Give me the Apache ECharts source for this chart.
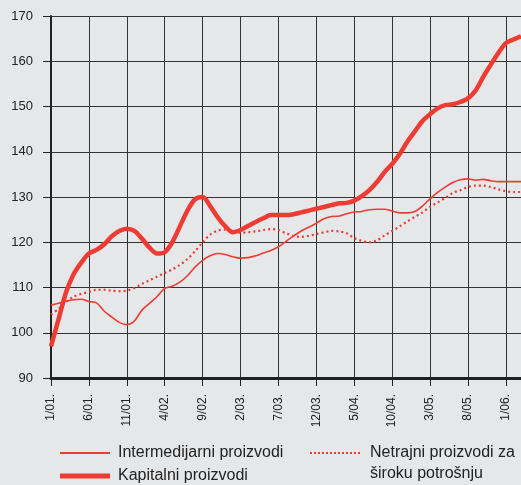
<!DOCTYPE html>
<html><head><meta charset="utf-8">
<script src="https://cdn.jsdelivr.net/npm/echarts@6/dist/echarts.min.js"></script>
<style>html,body{margin:0;padding:0;background:#e6e7e9}#c{width:521px;height:485px}</style>
</head><body><div id="c"></div>
<script>
var months = ["1/01.","2/01.","3/01.","4/01.","5/01.","6/01.","7/01.","8/01.","9/01.","10/01.","11/01.","12/01.",
"1/02.","2/02.","3/02.","4/02.","5/02.","6/02.","7/02.","8/02.","9/02.","10/02.","11/02.","12/02.",
"1/03.","2/03.","3/03.","4/03.","5/03.","6/03.","7/03.","8/03.","9/03.","10/03.","11/03.","12/03.",
"1/04.","2/04.","3/04.","4/04.","5/04.","6/04.","7/04.","8/04.","9/04.","10/04.","11/04.","12/04.",
"1/05.","2/05.","3/05.","4/05.","5/05.","6/05.","7/05.","8/05.","9/05.","10/05.","11/05.","12/05.",
"1/06.","2/06.","3/06."];
var intermedijarni = [106.1,106.5,107,107.3,107.4,106.9,106.6,104.8,103.5,102.3,101.8,102.6,
105,106.5,108,109.8,110.3,111.2,112.6,114.5,116,117,117.5,117.3,
116.8,116.5,116.6,117,117.6,118.2,119,120.2,121.4,122.5,123.3,124.2,
125.2,125.7,125.8,126.3,126.7,126.8,127.2,127.3,127.3,126.9,126.5,126.5,
126.8,128,129.6,131,132.2,133.2,133.8,134,133.7,133.9,133.6,133.4,
133.4,133.4,133.4];
var kapitalni = [97,103,109,113,115.5,117.5,118.3,119.5,121.3,122.5,123,122.5,
120.8,118.8,117.5,117.8,120,123.5,127,129.5,130,128,125.5,123.5,
122.2,122.7,123.6,124.5,125.3,126,126,126,126.2,126.6,127,127.4,
127.8,128.2,128.6,128.7,129.2,130.2,131.5,133.3,135.5,137.3,139.5,142.2,
144.5,146.8,148.3,149.6,150.3,150.5,151,151.8,153.5,156.5,159.2,161.8,
164,164.8,165.5];
var netrajni = [104,105.3,106.8,108,108.6,109,109.5,109.5,109.3,109.2,109.3,109.9,
110.8,111.6,112.4,113.2,114,115,116.3,118,120,121.7,122.6,122.8,
122.4,122.1,122.2,122.4,122.7,122.9,122.7,122,121.4,121.2,121.4,121.8,
122.2,122.5,122.4,122,120.9,120.3,120,120.4,121.5,122.5,123.5,124.6,
125.6,126.6,127.8,128.8,129.8,130.9,131.5,132.2,132.5,132.5,132.2,131.7,
131.3,131.1,131.1];
var seriesNames = ["Intermedijarni proizvodi","Kapitalni proizvodi","Netrajni proizvodi za"];
var legendSecondLine = "široku potrošnju";

var red = '#ee3b33';
var font = 'Liberation Sans, Arial, sans-serif';
var dotPath = 'path://M0,0h2v2h-2zM4,0h2v2h-2zM8,0h2v2h-2zM12,0h2v2h-2zM16,0h2v2h-2zM20,0h2v2h-2zM24,0h2v2h-2zM28,0h2v2h-2zM32,0h2v2h-2zM36,0h2v2h-2zM40,0h2v2h-2zM44,0h2v2h-2zM48,0h2v2h-2z';
var chart = echarts.init(document.getElementById('c'), null, {renderer:'canvas'});
chart.setOption({
  backgroundColor:'#e6e7e9',
  animation:false,
  grid:{left:51, top:16, bottom:107, right:-2, containLabel:false},
  xAxis:{
    type:'category', data:months, boundaryGap:false,
    axisLine:{lineStyle:{color:'#222', width:3}},
    axisTick:{interval:4, length:8, lineStyle:{color:'#222', width:1}},
    axisLabel:{interval:4, rotate:90, margin:16, color:'#222', fontSize:12, fontFamily:font},
    splitLine:{show:true, interval:4, lineStyle:{color:'#333', width:1}}
  },
  yAxis:{
    type:'value', min:90, max:170, interval:10,
    axisLine:{show:true, lineStyle:{color:'#222', width:2}},
    axisTick:{show:true, length:8, lineStyle:{color:'#222', width:1}},
    axisLabel:{margin:18, color:'#222', fontSize:13, fontFamily:font},
    splitLine:{show:true, lineStyle:{color:'#333', width:1}}
  },
  legend:[
    {data:[{name:seriesNames[0], icon:'rect'}], left:60, top:445, itemWidth:50, itemHeight:2,
     padding:0, textStyle:{fontSize:16, color:'#222', fontFamily:font, padding:[0,0,0,3]}},
    {data:[{name:seriesNames[1], icon:'rect'}], left:60, top:468, itemWidth:50, itemHeight:5,
     padding:0, textStyle:{fontSize:16, color:'#222', fontFamily:font, padding:[0,0,0,3]}},
    {data:[{name:seriesNames[2], icon:dotPath}], left:310, top:445, itemWidth:50, itemHeight:2,
     padding:0, textStyle:{fontSize:16, color:'#222', fontFamily:font, padding:[0,0,0,5]}}
  ],
  graphic:[
    {type:'text', left:370, top:466, style:{text:legendSecondLine, fill:'#222', font:'16px '+font}}
  ],
  series:[
    {name:seriesNames[0], type:'line', data:intermedijarni, symbol:'none', smooth:0.3, z:3,
     lineStyle:{color:red, width:1.6}, itemStyle:{color:red}},
    {name:seriesNames[2], type:'line', data:netrajni, symbol:'none', smooth:0.3, z:3,
     lineStyle:{color:red, width:2.2, type:[2,3]}, itemStyle:{color:red}},
    {name:seriesNames[1], type:'line', data:kapitalni, symbol:'none', smooth:0.3, z:4,
     lineStyle:{color:red, width:4.5}, itemStyle:{color:red}}
  ]
});
</script></body></html>
